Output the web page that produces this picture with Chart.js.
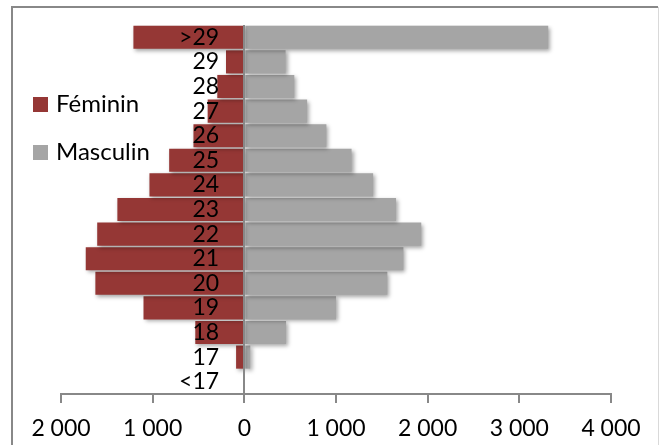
<!DOCTYPE html>
<html><head><meta charset="utf-8">
<script src="https://cdn.jsdelivr.net/npm/chart.js@4"></script>
<style>html,body{margin:0;padding:0;background:#fff;} #wrap{width:659px;height:445px;position:relative;}</style>
</head><body><div id="wrap"><canvas id="c" width="659" height="445"></canvas></div>
<script>
const categories = ['<17','17','18','19','20','21','22','23','24','25','26','27','28','29','>29'];
const feminin = [0, 90, 535, 1100, 1625, 1730, 1605, 1385, 1035, 820, 555, 400, 295, 200, 1210];
const masculin = [0, 65, 455, 1000, 1560, 1735, 1930, 1655, 1405, 1170, 895, 685, 545, 450, 3315];
const xTickValues = [-2000, -1000, 0, 1000, 2000, 3000, 4000];
const xTickLabels = ['2 000', '1 000', '0', '1 000', '2 000', '3 000', '4 000'];
const seriesNames = ['Féminin', 'Masculin'];
const seriesColors = ['#953735', '#A5A5A5'];

const FONT = 'Lato';

const framePlugin = {
  id: 'frame',
  beforeDraw(c) {
    const ctx = c.ctx;
    ctx.save();
    ctx.fillStyle = '#fff';
    ctx.fillRect(0, 0, c.width, c.height);
    ctx.strokeStyle = '#888';
    ctx.lineWidth = 2;
    ctx.beginPath();
    ctx.moveTo(12, 445);
    ctx.lineTo(12, 7);
    ctx.lineTo(658, 7);
    ctx.stroke();
    ctx.strokeStyle = '#d9d9d9';
    ctx.lineWidth = 1;
    ctx.beginPath();
    ctx.moveTo(658.5, 7);
    ctx.lineTo(658.5, 445);
    ctx.stroke();
    ctx.restore();
  }
};

const shadowPlugin = {
  id: 'barShadow',
  beforeDatasetsDraw(c) {
    const ctx = c.ctx;
    ctx.save();
    ctx.shadowColor = 'rgba(0,0,0,0.35)';
    ctx.shadowBlur = 4;
    ctx.shadowOffsetX = 2;
    ctx.shadowOffsetY = 2;
  },
  afterDatasetsDraw(c) { c.ctx.restore(); }
};

const legendPlugin = {
  id: 'customLegend',
  afterDraw(c) {
    const ctx = c.ctx;
    ctx.save();
    ctx.font = '24px ' + FONT;
    ctx.textBaseline = 'middle';
    c.data.datasets.forEach((ds, i) => {
      const y = 104.5 + i * 48;
      ctx.fillStyle = ds.backgroundColor;
      ctx.fillRect(33, y - 7.5, 15, 15);
      ctx.fillStyle = '#000';
      ctx.fillText(ds.label, 56, y);
    });
    ctx.restore();
  }
};

new Chart(document.getElementById('c'), {
  type: 'bar',
  data: {
    labels: categories,
    datasets: [
      { label: seriesNames[0], data: feminin.map(v => -v), backgroundColor: seriesColors[0], barPercentage: 0.94, categoryPercentage: 1 },
      { label: seriesNames[1], data: masculin, backgroundColor: seriesColors[1], barPercentage: 0.94, categoryPercentage: 1 }
    ]
  },
  options: {
    indexAxis: 'y',
    responsive: false,
    animation: false,
    devicePixelRatio: 1,
    layout: { padding: { left: 61, right: 48, top: 25, bottom: -9.6 } },
    plugins: { legend: { display: false }, tooltip: { enabled: false } },
    scales: {
      x: {
        type: 'linear', stacked: true, min: -2000, max: 4000,
        afterBuildTicks: s => { s.ticks = xTickValues.map(v => ({ value: v })); },
        ticks: { callback: (v, i) => xTickLabels[i], font: { family: FONT, size: 23 }, color: '#000', padding: 12, maxRotation: 0, autoSkip: false },
        grid: {
          display: true, drawOnChartArea: true, drawTicks: true, tickLength: 9, lineWidth: 2, z: 1,
          color: ctx => (ctx.tick && ctx.tick.value === 0) ? '#888' : 'rgba(0,0,0,0)',
          tickColor: '#888'
        },
        border: { color: '#888', width: 2, z: 1 }
      },
      y: {
        type: 'category', stacked: true, reverse: true, position: { x: -275 },
        ticks: { font: { family: FONT, size: 23 }, color: '#000', padding: 0, autoSkip: false, z: 2 },
        grid: { display: false },
        border: { display: false }
      }
    }
  },
  plugins: [framePlugin, shadowPlugin, legendPlugin]
});
</script>
</body></html>
